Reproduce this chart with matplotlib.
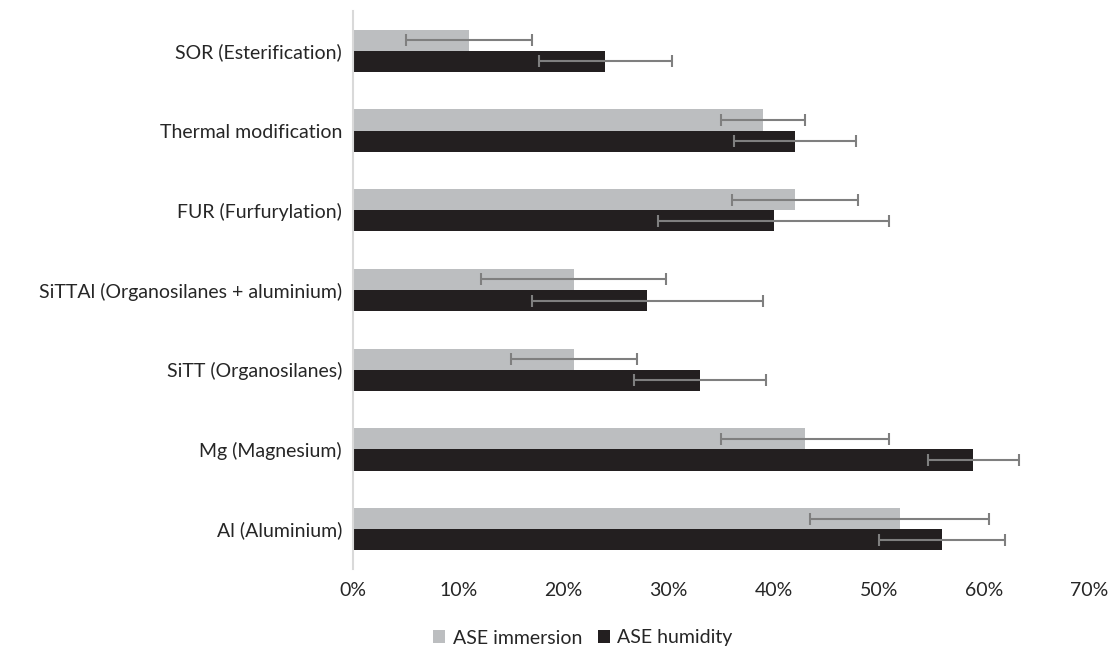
import numpy as np
import matplotlib
matplotlib.use("Agg")
import matplotlib.pyplot as plt
from matplotlib.ticker import FuncFormatter

# data (top to bottom)
categories = ["SOR (Esterification)", "Thermal modification", "FUR (Furfurylation)",
              "SiTTAl (Organosilanes + aluminium)", "SiTT (Organosilanes)",
              "Mg (Magnesium)", "Al (Aluminium)"]
immersion = [11, 39, 42, 21, 21, 43, 52]
immersion_err = [6, 4, 6, 8.8, 6, 8, 8.5]
humidity = [24, 42, 40, 28, 33, 59, 56]
humidity_err = [6.3, 5.8, 11, 11, 6.3, 4.3, 6]
xticks = [0, 10, 20, 30, 40, 50, 60, 70]

plt.rcParams['font.family'] = ['Lato', 'DejaVu Sans']

fig = plt.figure(figsize=(11.13, 6.48), dpi=100)
ax = fig.add_axes([353/1113, 1 - 569/648, (1089-353)/1113, (569-11)/648])

y = np.arange(len(categories))
h = 0.265
errkw = dict(ecolor='#7f7f7f', elinewidth=1.5, capsize=4, capthick=1.5)
ax.barh(y - h/2, immersion, height=h, color='#bcbec0', xerr=immersion_err,
        error_kw=errkw, label='ASE immersion')
ax.barh(y + h/2, humidity, height=h, color='#231f20', xerr=humidity_err,
        error_kw=errkw, label='ASE humidity')

ax.set_yticks(y)
ax.set_yticklabels(categories, fontsize=14, color='#262626')
ax.set_ylim(len(categories) - 0.5, -0.5)
ax.set_xlim(0, 70)
ax.set_xticks(xticks)
ax.xaxis.set_major_formatter(FuncFormatter(lambda v, p: "%d%%" % v))
ax.tick_params(axis='x', labelsize=14, labelcolor='#262626', length=0, pad=9)
ax.tick_params(axis='y', length=0, pad=8)

for s in ['top', 'right', 'bottom']:
    ax.spines[s].set_visible(False)
ax.spines['left'].set_color('#d9d9d9')
ax.spines['left'].set_linewidth(1.5)

handles, labels = ax.get_legend_handles_labels()
fig.legend(handles, labels, loc='center', bbox_to_anchor=(583/1113, 1 - 638/648),
           ncol=2, frameon=False, fontsize=14, handlelength=0.6, handleheight=0.6,
           handletextpad=0.4, columnspacing=0.8, labelcolor='#262626')

plt.savefig("out.png", dpi=100)
